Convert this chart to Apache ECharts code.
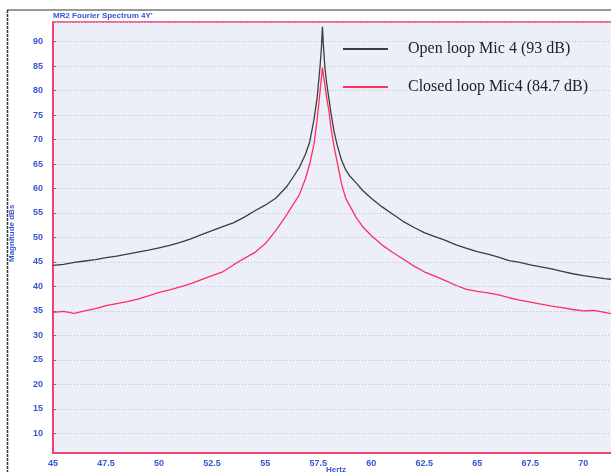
<!DOCTYPE html>
<html>
<head>
<meta charset="utf-8">
<script src="https://cdn.jsdelivr.net/npm/echarts@6/dist/echarts.min.js"></script>
<style>html,body{margin:0;padding:0;background:#fff;}#c{width:611px;height:472px;}</style>
</head>
<body>
<div id="c"></div>
<script>
const titleText = "MR2 Fourier Spectrum 4Y'";
const yTitle = 'Magnitude dBs';
const xTitle = 'Hertz';
const seriesNames = ['Open loop Mic 4 (93 dB)', 'Closed loop Mic4 (84.7 dB)'];

const freq = [45, 45.5, 46, 46.5, 47, 47.5, 48, 48.5, 49, 49.5, 50, 50.5, 51, 51.5, 52, 52.5, 53, 53.5, 54, 54.5, 55, 55.5, 56, 56.3, 56.6, 56.9, 57.1, 57.3, 57.45, 57.58, 57.65, 57.7, 57.75, 57.82, 57.9, 58, 58.1, 58.25, 58.4, 58.6, 58.8, 59, 59.3, 59.6, 60, 60.5, 61, 61.5, 62, 62.5, 63, 63.5, 64, 64.5, 65, 65.5, 66, 66.5, 67, 67.5, 68, 68.5, 69, 69.5, 70, 70.5, 71, 71.5, 72, 72.5, 73];

const openLoop = [44.3, 44.5, 44.9, 45.2, 45.5, 45.9, 46.2, 46.6, 47.0, 47.4, 47.9, 48.4, 49.0, 49.7, 50.6, 51.4, 52.2, 53.0, 54.1, 55.4, 56.6, 58.0, 60.3, 62.2, 64.2, 67.0, 69.5, 74.0, 78.5, 84.5, 88.5, 93.0, 89.0, 84.5, 81.5, 78.5, 75.5, 71.6, 68.8, 65.8, 63.8, 62.5, 61.1, 59.6, 58.0, 56.3, 54.8, 53.3, 52.1, 51.0, 50.2, 49.4, 48.5, 47.8, 47.1, 46.6, 46.0, 45.3, 44.9, 44.4, 44.0, 43.6, 43.1, 42.6, 42.2, 41.9, 41.6, 41.4, 41.2, 41.0, 40.8];

const closedLoop = [34.7, 34.9, 34.5, 35.0, 35.5, 36.1, 36.5, 36.9, 37.4, 38.1, 38.8, 39.3, 39.9, 40.6, 41.4, 42.2, 43.0, 44.4, 45.7, 46.9, 48.7, 51.4, 54.5, 56.6, 58.6, 62.0, 65.0, 69.0, 74.0, 79.5, 82.5, 84.7, 83.0, 81.0, 78.5, 76.0, 72.5, 68.5, 65.3, 61.0, 58.0, 56.4, 54.0, 52.2, 50.4, 48.5, 47.0, 45.6, 44.2, 43.0, 42.1, 41.2, 40.2, 39.4, 39.0, 38.7, 38.3, 37.7, 37.2, 36.8, 36.4, 36.0, 35.7, 35.3, 35.0, 35.1, 34.7, 34.3, 34.1, 33.9, 33.7];

const blue = '#3556cf';
const redAxis = '#f5356b';

const chart = echarts.init(document.getElementById('c'), null, {renderer: 'canvas'});
chart.setOption({
  animation: false,
  backgroundColor: '#ffffff',
  grid: {
    left: 53, top: 22, width: 594, height: 431,
    outerBoundsMode: 'none', containLabel: false,
    show: true, backgroundColor: '#eceef8', borderColor: redAxis, borderWidth: 1.5
  },
  legend: {
    orient: 'vertical', left: 338, top: 36,
    icon: 'rect', itemWidth: 45, itemHeight: 2, itemGap: 22,
    textStyle: {fontFamily: 'Liberation Serif', fontSize: 16, color: '#222', padding: [0, 0, 0, 15]},
    data: seriesNames
  },
  xAxis: {
    type: 'value', min: 45, max: 73, interval: 2.5,
    axisLine: {show: true, lineStyle: {color: redAxis, width: 1.5}},
    axisTick: {show: false},
    axisLabel: {color: blue, fontSize: 9, fontWeight: 'bold', fontFamily: 'Liberation Sans', margin: 6, showMaxLabel: false},
    splitLine: {show: false}
  },
  yAxis: {
    type: 'value', min: 6, max: 94, splitNumber: 18,
    axisLine: {show: true, lineStyle: {color: redAxis, width: 1.5}},
    axisTick: {show: true, inside: true, length: 3, lineStyle: {color: redAxis}},
    axisLabel: {color: blue, fontSize: 9, fontWeight: 'bold', fontFamily: 'Liberation Sans', margin: 10, showMinLabel: false, showMaxLabel: false},
    splitLine: {show: true, lineStyle: {color: '#b9c0de', type: [1, 2], width: 1}}
  },
  series: [
    {
      name: seriesNames[0], type: 'line', symbol: 'none',
      data: freq.map((f, i) => [f, openLoop[i]]),
      lineStyle: {color: '#3d3d3d', width: 1.3}, itemStyle: {color: '#3d3d3d'}
    },
    {
      name: seriesNames[1], type: 'line', symbol: 'none',
      data: freq.map((f, i) => [f, closedLoop[i]]),
      lineStyle: {color: '#ff2f62', width: 1.3}, itemStyle: {color: '#ff2f62'}
    }
  ],
  graphic: [
    {type: 'line', shape: {x1: 7, y1: 10, x2: 611, y2: 10}, style: {stroke: '#333', lineWidth: 1.2}},
    {type: 'line', shape: {x1: 7.5, y1: 10, x2: 7.5, y2: 472}, style: {stroke: '#333', lineWidth: 1.5, lineDash: [3, 1]}},
    {type: 'text', left: 53, top: 12, style: {text: titleText, fill: blue, font: 'bold 8px "Liberation Sans"'}},
    {type: 'text', x: 8, y: 262, rotation: Math.PI / 2, style: {text: yTitle, fill: blue, font: 'bold 8px "Liberation Sans"'}},
    {type: 'text', x: 336, y: 466, style: {text: xTitle, fill: blue, font: 'bold 8px "Liberation Sans"', align: 'center'}}
  ]
});
</script>
</body>
</html>
